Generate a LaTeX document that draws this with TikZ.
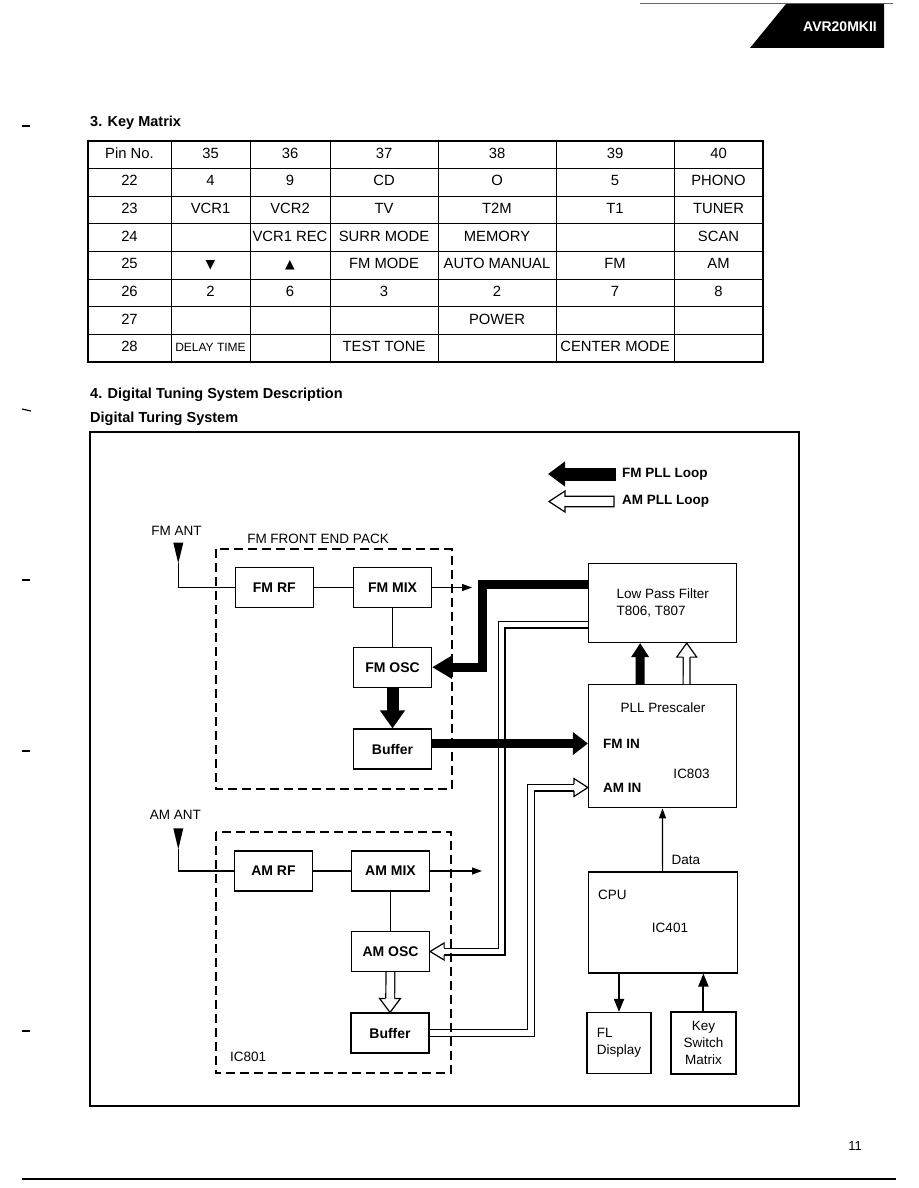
\documentclass[tikz,border=0pt]{standalone}
\usepackage{fontspec}
\setmainfont{Liberation Sans}
\newfontfamily\symfont{DejaVu Sans}
\usetikzlibrary{arrows.meta, calc}

\newcommand{\delaytime}{{\fontsize{12}{12}\selectfont DELAY TIME}}
\newcommand{\keydown}{{\symfont\fontsize{12.5}{12}\selectfont ▼}}
\newcommand{\keyup}{{\symfont\fontsize{12.5}{12}\selectfont ▲}}
\newcommand{\colmid}[1]{\ifcase#1 129.5\or 210.5\or 290\or 384\or 497\or 615\or 718.5\fi}
% open arrow head: tip, angle, shaft half width, head half width
\newcommand{\hollowtip}[4]{%
  \begin{scope}[shift={(#1)}, rotate=#2]
    \filldraw[fill=white, line width=1.2pt] (-14,#3) -- (-14,#4) -- (0,0) -- (-14,-#4) -- (-14,-#3);
  \end{scope}}

\tikzset{
  txt/.style={inner sep=0pt, font=\fontsize{13.5}{17}\selectfont},
  boldtxt/.style={inner sep=0pt, font=\bfseries\fontsize{13.5}{17}\selectfont},
  heading/.style={inner sep=0pt, anchor=west, font=\bfseries\fontsize{14.5}{17}\selectfont},
  cell/.style={inner sep=0pt, text height=10.5pt, text depth=0pt, font=\fontsize{14.8}{17}\selectfont},
  block/.style={draw, line width=1.2pt, inner sep=0pt, minimum width=78pt, minimum height=40pt, font=\bfseries\fontsize{14}{17}\selectfont},
  unit/.style={draw, line width=1.2pt, inner sep=0pt, font=\fontsize{13.5}{17}\selectfont},
  pack/.style={line width=2pt, dash pattern=on 9pt off 5pt},
  wire/.style={line width=1.2pt},
  sig/.style={wire, -{Triangle[length=10pt, width=7pt]}},
  fmloop/.style={line width=9pt, -{Triangle[length=16pt, width=22pt]}},
  amloop/.style={double, double distance=5.6pt, line width=1.2pt, shorten >=14pt},
}

\begin{document}
\begin{tikzpicture}[x=1pt, y=-1pt]
  \useasboundingbox (0,0) rectangle (918,1188);
  % page header and margin marks
  \draw[line width=0.8pt, black!60] (640,3.5) -- (893,3.5);
  \fill (786,4) -- (884,4) -- (884,48) -- (750,48) -- cycle;
  \node[heading, anchor=center, text=white, font=\bfseries\fontsize{14}{17}\selectfont] (model) at (840,27) {AVR20MKII};
  \foreach \y in {126,580,751,1031}
    \draw[line width=1.2pt] (22,\y) -- (30,\y);
  \draw[line width=1.2pt] (22,409) -- (31,411);

  % key matrix
  \node[heading] (keytitle) at (90,123) {3. Key Matrix};
  \draw[line width=1.4pt] (88,141) rectangle (763,362);
  \foreach \x in {171,250,330,438,556,674}
    \draw[line width=1pt] (\x,141) -- (\x,362);
  \foreach \ri in {1,...,7}
    \draw[line width=1pt] (88,141+27.625*\ri) -- (763,141+27.625*\ri);
  \foreach \cells [count=\ri from 0] in {
      {Pin No.,35,36,37,38,39,40},
      {22,4,9,CD,O,5,PHONO},
      {23,VCR1,VCR2,TV,T2M,T1,TUNER},
      {24,{},VCR1 REC,SURR MODE,MEMORY,{},SCAN},
      {25,\keydown,\keyup,FM MODE,AUTO MANUAL,FM,AM},
      {26,2,6,3,2,7,8},
      {27,{},{},{},POWER,{},{}},
      {28,\delaytime,{},TEST TONE,{},CENTER MODE,{}}}
    \foreach \cellText [count=\ci from 0] in \cells {
      \edef\cx{\colmid{\ci}}
      \node[cell] (cell-\ri-\ci) at (\cx,153+27.625*\ri) {\cellText};
    }

  % tuning system
  \node[heading] (dtstitle) at (90,395) {4. Digital Tuning System Description};
  \node[heading] (dtssub) at (90,419) {Digital Turing System};
  \draw[wire] (90,432) rectangle (799,1106);

  % legend
  \node[boldtxt, anchor=west] (fmkey) at (622,474) {FM PLL Loop};
  \node[boldtxt, anchor=west] (amkey) at (622,501.5) {AM PLL Loop};
  \draw[line width=13pt, -{Triangle[length=17pt, width=24pt]}] ([xshift=-6pt]fmkey.west) -- ([xshift=-74pt]fmkey.west);
  \filldraw[fill=white, line width=1.2pt] ([xshift=-8pt]amkey.west) ++(0,-5.3) -- ++(-49,0) -- ++(0,-5.2) -- ++(-16,10.5) -- ++(16,10.5) -- ++(0,-5.2) -- ++(49,0) -- cycle;

  % FM front end
  \node[txt] (fmanttext) at (176.5,531) {FM ANT};
  \coordinate (fmant) at (178.3,563.3);
  \fill (fmant) ++(-5,-20.6) -- ++(10,0) -- (fmant) -- cycle;
  \node[txt] (fmpack) at (318,538.5) {FM FRONT END PACK};
  \node[block] (fmrf) at (274.3,587.5) {FM RF};
  \node[block] (fmmix) at (392.5,587.5) {FM MIX};
  \node[block] (fmosc) at (392.5,667.2) {FM OSC};
  \node[block] (fmbuf) at (392.5,749) {Buffer};
  \coordinate (fmmixout) at (472,587.5);
  \draw[wire] (fmant) |- (fmrf.west);
  \draw[wire] (fmrf) -- (fmmix);
  \draw[wire] (fmmix) -- (fmosc);
  \draw[sig] (fmmix.east) -- (fmmixout);
  \draw[line width=12pt, -{Triangle[length=18pt, width=24pt]}] (fmosc) -- (fmbuf);

  % AM front end
  \node[txt] (amanttext) at (175.3,815) {AM ANT};
  \coordinate (amant) at (178.3,849.3);
  \fill (amant) ++(-5,-21) -- ++(10,0) -- (amant) -- cycle;
  \node[block] (amrf) at (273.5,871) {AM RF};
  \node[block] (ammix) at (390.5,871) {AM MIX};
  \node[block] (amosc) at (390.5,951.5) {AM OSC};
  \node[block] (ambuf) at (390,1033) {Buffer};
  \node[txt, anchor=west] (ic801) at (230,1057.3) {IC801};
  \coordinate (ammixout) at (482,871);
  \draw[wire] (amant) |- (amrf.west);
  \draw[wire] (amrf) -- (ammix);
  \draw[wire] (ammix) -- (amosc);
  \draw[sig] (ammix.east) -- (ammixout);
  \draw[amloop, double distance=7.6pt] (amosc) -- (ambuf);
  \hollowtip{ambuf.north}{270}{4.4}{10.5}

  % PLL, filter and CPU
  \node[unit, minimum width=148pt, minimum height=79pt, align=left] (lpf) at (662.7,603) {Low Pass Filter\\T806, T807};
  \node[unit, minimum width=148pt, minimum height=123pt] (pll) at (662.5,746.3) {};
  \node[txt] (plltext) at (663,707.5) {PLL Prescaler};
  \node[boldtxt, anchor=west] (fmtext) at (603,743.5) {FM IN};
  \node[boldtxt, anchor=west] (amtext) at (603,787.5) {AM IN};
  \node[txt] (ic803) at (691.5,773.5) {IC803};
  \node[unit, minimum width=149pt, minimum height=101pt] (cpu) at (662.6,922.4) {};
  \node[txt, anchor=west] (cputext) at (598,895) {CPU};
  \node[txt] (ic401) at (670,928) {IC401};
  \node[txt, anchor=west] (datatext) at (671.5,860) {Data};
  \node[unit, minimum width=64pt, minimum height=61pt, align=left] (fl) at (619,1043) {FL\\Display};
  \node[unit, minimum width=65pt, minimum height=62pt, align=center] (keysw) at (703.4,1043) {Key\\Switch\\Matrix};

  % loops
  \coordinate (fmx) at (482,0);
  \coordinate (amx) at (501.5,0);
  \coordinate (amxin) at (531,0);
  \coordinate (fmout) at ([yshift=19pt]lpf.west);
  \coordinate (amout) at ([yshift=-21.5pt]lpf.west);
  \draw[amloop] (amout) -- (amout -| amx) |- (amosc.east);
  \hollowtip{amosc.east}{180}{3.4}{8.5}
  \draw[amloop] (ambuf.east) -- (ambuf.east -| amxin) |- (amtext.west -| pll.west);
  \hollowtip{amtext.west -| pll.west}{0}{3.4}{9}
  \draw[fmloop, -{Triangle[length=20pt, width=22pt]}] (fmout) -- (fmout -| fmx) |- (fmosc.east);
  \draw[fmloop, -{Triangle[length=15pt, width=22pt]}] (fmtext -| fmbuf.east) -- (fmtext -| pll.west);
  \draw[fmloop, -{Triangle[length=14pt, width=17pt]}] ([xshift=-22.5pt]pll.north) -- ([xshift=-22.5pt]lpf.south);
  \draw[amloop] ([xshift=24pt]pll.north) -- ([xshift=24pt]lpf.south);
  \hollowtip{[xshift=24pt]lpf.south}{90}{3.4}{10}
  \draw[sig] (cpu.north) -- (pll.south);
  \draw[line width=2pt, -{Triangle[length=13pt, width=10pt]}] (cpu.south -| fl) -- (fl.north);
  \draw[line width=2pt, -{Triangle[length=13pt, width=10pt]}] (keysw.north) -- (keysw.north |- cpu.south);

  % front end packs
  \draw[pack] (216,549.3) rectangle (451.7,789.3);
  \draw[pack] (216,831.7) rectangle (451,1073.3);

  % footer
  \node[txt, font=\fontsize{13}{15}\selectfont] (pagenum) at (855,1146) {11};
  \draw[line width=1.5pt] (22,1179) -- (896,1179);
\end{tikzpicture}
\end{document}
